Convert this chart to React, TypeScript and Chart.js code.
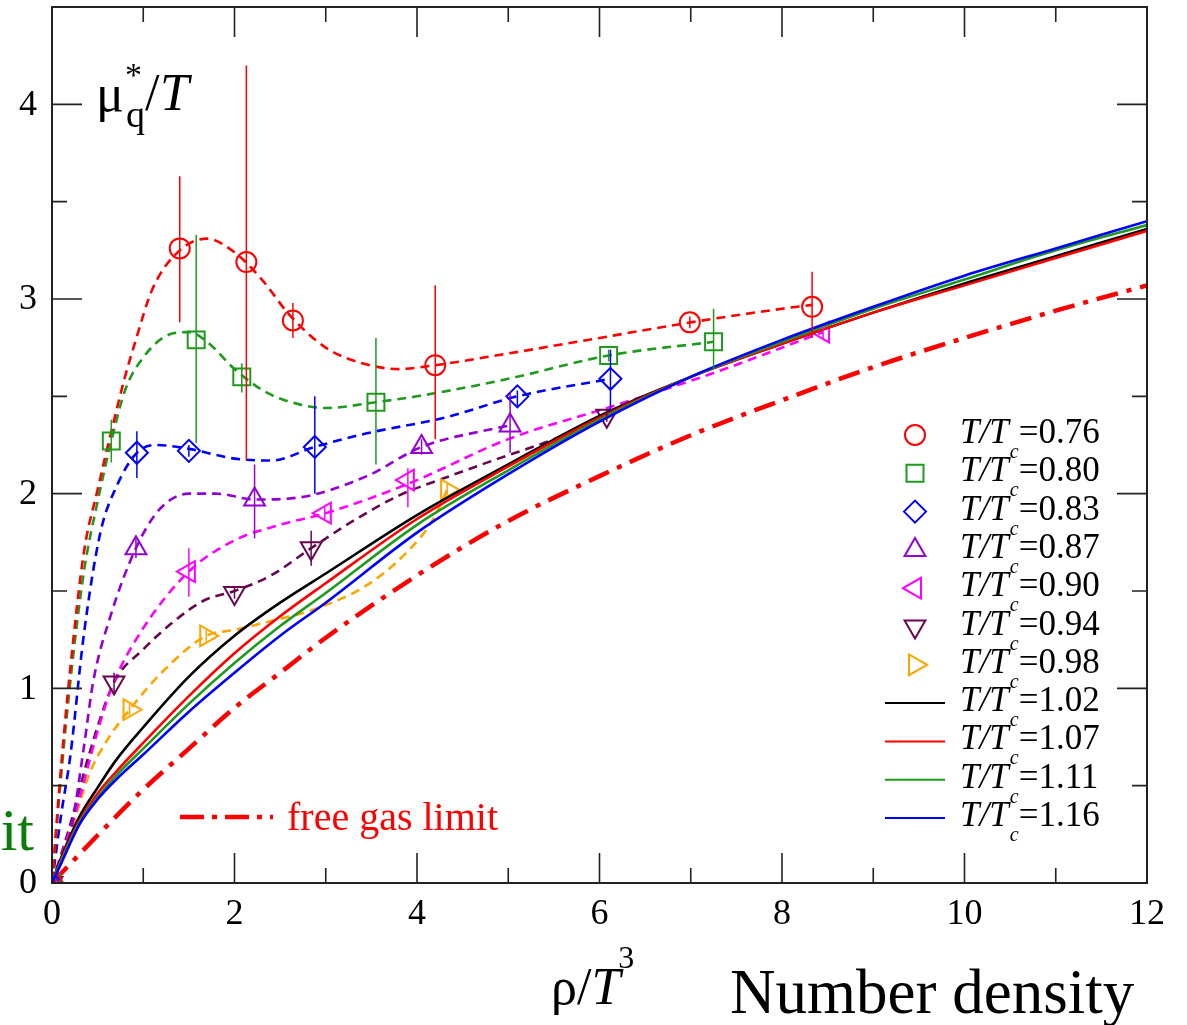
import React, { useEffect, useRef } from "react";
import { Chart, registerables } from "chart.js";

Chart.register(...registerables);

// ---------- axis ticks ----------
const X_TICKS = [0, 2, 4, 6, 8, 10, 12];
const Y_TICKS = [0, 1, 2, 3, 4];

// ---------- T/Tc = 0.76 (red circles) ----------
const R76_X = [0, 1.4, 2.13, 2.64, 4.2, 6.99, 8.33];
const R76_Y = [0, 3.26, 3.19, 2.89, 2.66, 2.88, 2.96];
const R76_LO = [0, 2.88, 2.17, 2.8, 2.28, 2.85, 2.8];
const R76_HI = [0, 3.63, 4.2, 2.98, 3.07, 2.91, 3.14];
const R76_FX = [0, 0.1, 0.2, 0.35, 0.5, 0.65, 0.8, 0.9, 1.1, 1.4, 1.7, 2.0, 2.3, 2.6, 3.0, 3.4, 3.8, 4.2, 5, 6, 7, 8, 8.33];
const R76_FY = [0, 0.6, 1.1, 1.7, 2.02, 2.32, 2.6, 2.76, 3.05, 3.25, 3.31, 3.24, 3.1, 2.92, 2.75, 2.67, 2.64, 2.66, 2.72, 2.8, 2.88, 2.95, 2.97];

// ---------- T/Tc = 0.80 (green squares) ----------
const G80_X = [0, 0.65, 1.58, 2.08, 3.55, 6.1, 7.25];
const G80_Y = [0, 2.27, 2.79, 2.6, 2.47, 2.71, 2.78];
const G80_LO = [0, 2.16, 2.26, 2.52, 2.15, 2.68, 2.64];
const G80_HI = [0, 2.38, 3.33, 2.67, 2.8, 2.74, 2.95];
const G80_FX = [0, 0.1, 0.2, 0.35, 0.5, 0.65, 0.8, 1.0, 1.3, 1.5, 1.7, 2.0, 2.35, 2.7, 3.0, 3.55, 4.0, 5.0, 6.1, 7.25];
const G80_FY = [0, 0.55, 1.03, 1.6, 1.96, 2.27, 2.53, 2.7, 2.82, 2.83, 2.78, 2.64, 2.52, 2.46, 2.44, 2.47, 2.5, 2.59, 2.71, 2.78];

// ---------- T/Tc = 0.83 (blue diamonds) ----------
const B83_X = [0, 0.93, 1.5, 2.88, 5.1, 6.12];
const B83_Y = [0, 2.21, 2.22, 2.24, 2.5, 2.59];
const B83_LO = [0, 2.08, 2.19, 2.0, 2.45, 2.42];
const B83_HI = [0, 2.32, 2.25, 2.5, 2.53, 2.74];
const B83_FX = [0, 0.1, 0.2, 0.35, 0.53, 0.71, 0.93, 1.15, 1.5, 2.0, 2.4, 2.88, 3.45, 4.3, 5.1, 6.12];
const B83_FY = [0, 0.35, 0.65, 1.28, 1.8, 2.04, 2.21, 2.25, 2.23, 2.18, 2.17, 2.24, 2.31, 2.39, 2.5, 2.59];

// ---------- T/Tc = 0.87 (violet up-triangles) ----------
const V87_X = [0, 0.92, 2.22, 4.05, 5.02];
const V87_Y = [0, 1.72, 1.97, 2.24, 2.35];
const V87_LO = [0, 1.67, 1.77, 2.2, 2.21];
const V87_HI = [0, 1.77, 2.15, 2.28, 2.52];
const V87_FX = [0, 0.2, 0.35, 0.45, 0.64, 0.92, 1.18, 1.5, 1.8, 2.22, 2.7, 3.45, 4.05, 4.8, 5.02];
const V87_FY = [0, 0.25, 0.7, 1.03, 1.37, 1.72, 1.92, 2.0, 2.0, 1.97, 1.98, 2.09, 2.24, 2.33, 2.35];

// ---------- T/Tc = 0.90 (magenta left-triangles) ----------
const M90_X = [0, 1.5, 2.99, 3.9, 8.45];
const M90_Y = [0, 1.6, 1.9, 2.07, 2.83];
const M90_LO = [0, 1.47, 1.87, 1.93, 2.8];
const M90_HI = [0, 1.72, 1.93, 2.13, 2.86];
const M90_FX = [0, 0.25, 0.5, 0.65, 0.96, 1.5, 2.0, 2.5, 3.0, 3.9, 5.0, 6.15, 7.25, 8.45];
const M90_FY = [0, 0.35, 0.78, 1.0, 1.28, 1.6, 1.76, 1.84, 1.9, 2.05, 2.28, 2.45, 2.62, 2.83];

// ---------- T/Tc = 0.94 (maroon down-triangles) ----------
const P94_X = [0, 0.68, 2.0, 2.84, 6.08];
const P94_Y = [0, 1.03, 1.49, 1.72, 2.4];
const P94_LO = [0, 0.98, 1.46, 1.63, 2.37];
const P94_HI = [0, 1.08, 1.52, 1.81, 2.43];
const P94_FX = [0, 0.2, 0.4, 0.68, 1.0, 1.3, 1.66, 2.0, 2.4, 2.84, 3.3, 3.8, 4.3, 4.83, 5.5, 6.08];
const P94_FY = [0, 0.3, 0.65, 1.03, 1.2, 1.33, 1.45, 1.5, 1.58, 1.72, 1.86, 1.99, 2.08, 2.17, 2.28, 2.4];

// ---------- T/Tc = 0.98 (orange right-triangles) ----------
const O98_X = [0, 0.85, 1.69, 4.33];
const O98_Y = [0, 0.89, 1.27, 2.02];
const O98_LO = [0, 0.86, 1.24, 1.99];
const O98_HI = [0, 0.92, 1.3, 2.05];
const O98_FX = [0, 0.2, 0.4, 0.6, 0.85, 1.2, 1.69, 2.0, 2.35, 2.9, 3.45, 3.89, 4.18, 4.33];
const O98_FY = [0, 0.25, 0.55, 0.73, 0.89, 1.08, 1.27, 1.3, 1.34, 1.41, 1.53, 1.7, 1.87, 2.02];

// ---------- T/Tc > 1 (solid lines) ----------
const HOT_X = [0, 0.1, 0.3, 0.5, 0.7, 1, 1.5, 2, 2.5, 3, 4, 5, 6, 7, 8, 9, 10, 11, 12];
const K102_Y = [0, 0.13, 0.34, 0.49, 0.63, 0.8, 1.06, 1.27, 1.44, 1.59, 1.89, 2.15, 2.4, 2.6, 2.77, 2.93, 3.08, 3.22, 3.36];
const R107_Y = [0, 0.12, 0.32, 0.46, 0.57, 0.72, 0.96, 1.18, 1.37, 1.54, 1.87, 2.14, 2.39, 2.6, 2.77, 2.93, 3.07, 3.21, 3.35];
const G111_Y = [0, 0.11, 0.31, 0.44, 0.55, 0.69, 0.92, 1.13, 1.32, 1.49, 1.84, 2.12, 2.38, 2.6, 2.78, 2.95, 3.1, 3.25, 3.38];
const B116_Y = [0, 0.1, 0.3, 0.43, 0.53, 0.66, 0.88, 1.08, 1.27, 1.44, 1.8, 2.1, 2.37, 2.6, 2.79, 2.96, 3.12, 3.26, 3.4];

// ---------- free gas limit ----------
const FREE_X = [0, 0.5, 1, 1.5, 2, 2.5, 3, 4, 5, 6, 7, 8, 9, 10, 11, 12];
const FREE_Y = [0, 0.245, 0.48, 0.69, 0.9, 1.08, 1.26, 1.58, 1.86, 2.09, 2.3, 2.48, 2.65, 2.8, 2.94, 3.07];

const FONT = '"Liberation Serif", "Times New Roman", serif';

type MarkerSeries = {
  label: string; color: string; style: string; rotation: number; radius: number;
  x: number[]; y: number[]; lo: number[]; hi: number[]; fx: number[]; fy: number[];
};

const MARKER_SERIES: MarkerSeries[] = [
  { label: "0.76", color: "#ff0000", style: "circle", rotation: 0, radius: 10, x: R76_X, y: R76_Y, lo: R76_LO, hi: R76_HI, fx: R76_FX, fy: R76_FY },
  { label: "0.80", color: "#1e9a1e", style: "rect", rotation: 0, radius: 12, x: G80_X, y: G80_Y, lo: G80_LO, hi: G80_HI, fx: G80_FX, fy: G80_FY },
  { label: "0.83", color: "#0000ff", style: "rectRot", rotation: 0, radius: 11, x: B83_X, y: B83_Y, lo: B83_LO, hi: B83_HI, fx: B83_FX, fy: B83_FY },
  { label: "0.87", color: "#9400d3", style: "triangle", rotation: 0, radius: 12, x: V87_X, y: V87_Y, lo: V87_LO, hi: V87_HI, fx: V87_FX, fy: V87_FY },
  { label: "0.90", color: "#ff00ff", style: "triangle", rotation: -90, radius: 12, x: M90_X, y: M90_Y, lo: M90_LO, hi: M90_HI, fx: M90_FX, fy: M90_FY },
  { label: "0.94", color: "#67074f", style: "triangle", rotation: 180, radius: 12, x: P94_X, y: P94_Y, lo: P94_LO, hi: P94_HI, fx: P94_FX, fy: P94_FY },
  { label: "0.98", color: "#ffa500", style: "triangle", rotation: 90, radius: 12, x: O98_X, y: O98_Y, lo: O98_LO, hi: O98_HI, fx: O98_FX, fy: O98_FY },
];

const LINE_SERIES = [
  { label: "1.02", color: "#000000", y: K102_Y },
  { label: "1.07", color: "#ff0000", y: R107_Y },
  { label: "1.11", color: "#1e9a1e", y: G111_Y },
  { label: "1.16", color: "#0000ff", y: B116_Y },
];

const pts = (xs: number[], ys: number[]) => xs.map((v, i) => ({ x: v, y: ys[i] }));

function drawShape(ctx: CanvasRenderingContext2D, style: string, x: number, y: number, r: number, rotation: number) {
  ctx.beginPath();
  if (style === "circle") {
    ctx.arc(x, y, r, 0, Math.PI * 2);
  } else if (style === "rect") {
    const s = Math.SQRT1_2 * r;
    ctx.rect(x - s, y - s, 2 * s, 2 * s);
  } else if (style === "rectRot") {
    ctx.moveTo(x - r, y);
    ctx.lineTo(x, y - r);
    ctx.lineTo(x + r, y);
    ctx.lineTo(x, y + r);
    ctx.closePath();
  } else {
    let rad = (rotation * Math.PI) / 180;
    ctx.moveTo(x + Math.sin(rad) * r, y - Math.cos(rad) * r);
    rad += (2 * Math.PI) / 3;
    ctx.lineTo(x + Math.sin(rad) * r, y - Math.cos(rad) * r);
    rad += (2 * Math.PI) / 3;
    ctx.lineTo(x + Math.sin(rad) * r, y - Math.cos(rad) * r);
    ctx.closePath();
  }
  ctx.stroke();
}

const errorBarPlugin = {
  id: "errorBars",
  afterDatasetsDraw(chart: any) {
    const { ctx, scales } = chart;
    const xs = scales.x, ys = scales.y;
    ctx.save();
    chart.data.datasets.forEach((ds: any) => {
      if (!ds.errLo) return;
      ctx.strokeStyle = ds.borderColor;
      ctx.lineWidth = 1.5;
      ds.data.forEach((p: any, i: number) => {
        const px = xs.getPixelForValue(p.x);
        const y1 = ys.getPixelForValue(ds.errLo[i]);
        const y2 = ys.getPixelForValue(ds.errHi[i]);
        if (Math.abs(y1 - y2) < 1) return;
        ctx.beginPath();
        ctx.moveTo(px, y1);
        ctx.lineTo(px, y2);
        ctx.stroke();
      });
    });
    ctx.restore();
  },
};

const decorPlugin = {
  id: "decor",
  afterDraw(chart: any) {
    const { ctx, chartArea: a, scales } = chart;
    const xs = scales.x, ys = scales.y;
    ctx.save();
    // frame
    ctx.strokeStyle = "#222";
    ctx.lineWidth = 2;
    ctx.strokeRect(a.left, a.top, a.right - a.left, a.bottom - a.top);
    // inward ticks
    ctx.lineWidth = 1.6;
    for (let v = 1; v < 12; v++) {
      const px = xs.getPixelForValue(v);
      const len = v % 2 === 0 ? 30 : 15;
      ctx.beginPath();
      ctx.moveTo(px, a.bottom); ctx.lineTo(px, a.bottom - len);
      ctx.moveTo(px, a.top); ctx.lineTo(px, a.top + len);
      ctx.stroke();
    }
    for (let v = 0.5; v < 4.5; v += 0.5) {
      const py = ys.getPixelForValue(v);
      const len = Number.isInteger(v) ? 30 : 15;
      ctx.beginPath();
      ctx.moveTo(a.left, py); ctx.lineTo(a.left + len, py);
      ctx.moveTo(a.right, py); ctx.lineTo(a.right - len, py);
      ctx.stroke();
    }

    // y tick labels
    ctx.fillStyle = "#000";
    ctx.font = `36px ${FONT}`;
    ctx.textAlign = "right";
    ctx.textBaseline = "middle";
    Y_TICKS.forEach((v) => ctx.fillText(String(v), 37, ys.getPixelForValue(v) + 1));

    // y-axis title  mu*_q / T
    ctx.textBaseline = "alphabetic";
    ctx.textAlign = "left";
    ctx.font = `52px ${FONT}`;
    ctx.fillText("μ", 96, 111);
    ctx.font = `34px ${FONT}`;
    ctx.fillText("*", 125, 86);
    ctx.font = `38px ${FONT}`;
    ctx.fillText("q", 126, 127);
    ctx.font = `52px ${FONT}`;
    ctx.fillText("/", 145, 110);
    ctx.font = `italic 52px ${FONT}`;
    ctx.fillText("T", 160, 110);

    // x-axis title rho / T^3
    ctx.font = `52px ${FONT}`;
    ctx.fillText("ρ/", 551, 1004);
    const w1 = ctx.measureText("ρ/").width;
    ctx.font = `italic 52px ${FONT}`;
    ctx.fillText("T", 551 + w1, 1004);
    const w2 = ctx.measureText("T").width;
    ctx.font = `32px ${FONT}`;
    ctx.fillText("3", 551 + w1 + w2 - 2, 968);

    ctx.font = `63px ${FONT}`;
    ctx.fillText("Number density", 730, 1013);

    // stray green text at left edge
    ctx.fillStyle = "#0b7d0b";
    ctx.font = `60px ${FONT}`;
    ctx.textAlign = "right";
    ctx.fillText("it", 34, 850);
    ctx.textAlign = "left";

    // free gas limit key
    ctx.strokeStyle = "#ff0000";
    ctx.lineWidth = 4.5;
    ctx.setLineDash([24, 8, 5, 8]);
    ctx.beginPath();
    ctx.moveTo(180, 817); ctx.lineTo(273, 817);
    ctx.stroke();
    ctx.setLineDash([]);
    ctx.fillStyle = "#ff0000";
    ctx.font = `40px ${FONT}`;
    ctx.fillText("free gas limit", 287, 830);

    // legend
    const rowY = (i: number) => 435 + i * 38.3;
    const drawLabel = (label: string, yc: number) => {
      const base = yc + 8;
      ctx.fillStyle = "#000";
      ctx.font = `italic 35px ${FONT}`;
      ctx.fillText("T/T", 960, base);
      const w = ctx.measureText("T/T").width;
      ctx.font = `italic 20px ${FONT}`;
      ctx.fillText("c", 960 + w + 1, base + 15);
      ctx.font = `35px ${FONT}`;
      ctx.fillText("=" + label, 960 + w + 10, base);
    };
    MARKER_SERIES.forEach((s, i) => {
      const yc = rowY(i);
      ctx.strokeStyle = s.color;
      ctx.lineWidth = 2;
      drawShape(ctx, s.style, 915, yc, s.radius, s.rotation);
      drawLabel(s.label, yc);
    });
    LINE_SERIES.forEach((s, j) => {
      const yc = rowY(MARKER_SERIES.length + j);
      ctx.strokeStyle = s.color;
      ctx.lineWidth = 2;
      ctx.beginPath();
      ctx.moveTo(885, yc); ctx.lineTo(945, yc);
      ctx.stroke();
      drawLabel(s.label, yc);
    });
    ctx.restore();
  },
};

export default function App() {
  const ref = useRef<HTMLCanvasElement | null>(null);
  useEffect(() => {
    if (!ref.current) return;
    const datasets: any[] = [];
    [...LINE_SERIES].reverse().forEach((s, k) => {
      datasets.push({
        label: s.label, data: pts(HOT_X, s.y), showLine: true, borderColor: s.color,
        borderWidth: 2.6, pointRadius: 0, cubicInterpolationMode: "monotone", fill: false, order: 1 + k * 0.01,
      });
    });
    MARKER_SERIES.forEach((s) => {
      datasets.push({
        label: s.label + " pts", data: pts(s.x, s.y), showLine: false, borderColor: s.color,
        pointStyle: s.style, pointRadius: s.radius, pointRotation: s.rotation, pointBorderWidth: 2,
        pointBorderColor: s.color, pointBackgroundColor: "rgba(0,0,0,0)", errLo: s.lo, errHi: s.hi, order: 2,
      });
      datasets.push({
        label: s.label + " fit", data: pts(s.fx, s.fy), showLine: true, borderColor: s.color,
        borderWidth: 2.6, borderDash: [9, 6], pointRadius: 0, cubicInterpolationMode: "monotone", fill: false, order: 3,
      });
    });
    datasets.push({
      label: "free gas", data: pts(FREE_X, FREE_Y), showLine: true, borderColor: "#ff0000",
      borderWidth: 4.5, borderDash: [22, 9, 5, 9], pointRadius: 0, cubicInterpolationMode: "monotone", fill: false, order: 4,
    });

    const tickFont = { family: '"Liberation Serif", serif', size: 36 };
    const chart = new Chart(ref.current, {
      type: "scatter",
      data: { datasets },
      options: {
        animation: false,
        responsive: false,
        devicePixelRatio: 1,
        layout: { autoPadding: false, padding: { top: 7, right: 40, left: 0, bottom: 0 } },
        plugins: { legend: { display: false }, tooltip: { enabled: false } },
        scales: {
          x: {
            type: "linear", min: 0, max: 12,
            afterBuildTicks: (s: any) => { s.ticks = X_TICKS.map((v) => ({ value: v })); },
            afterFit: (s: any) => { s.height = 142; s.paddingLeft = 0; s.paddingRight = 0; },
            grid: { display: false, drawTicks: false },
            border: { display: false },
            ticks: { font: tickFont, color: "#000", padding: 10, maxRotation: 0, autoSkip: false },
          },
          y: {
            type: "linear", min: 0, max: 4.5,
            afterBuildTicks: (s: any) => { s.ticks = Y_TICKS.map((v) => ({ value: v })); },
            afterFit: (s: any) => { s.width = 52; s.paddingTop = 0; s.paddingBottom = 0; },
            grid: { display: false, drawTicks: false },
            border: { display: false },
            ticks: { display: false },
          },
        },
      } as any,
      plugins: [errorBarPlugin, decorPlugin],
    });
    return () => chart.destroy();
  }, []);
  return (
    <div style={{ position: "absolute", left: 0, top: 0, width: 1187, height: 1025, background: "#fff" }}>
      <canvas ref={ref} width={1187} height={1025} style={{ display: "block" }} />
    </div>
  );
}
